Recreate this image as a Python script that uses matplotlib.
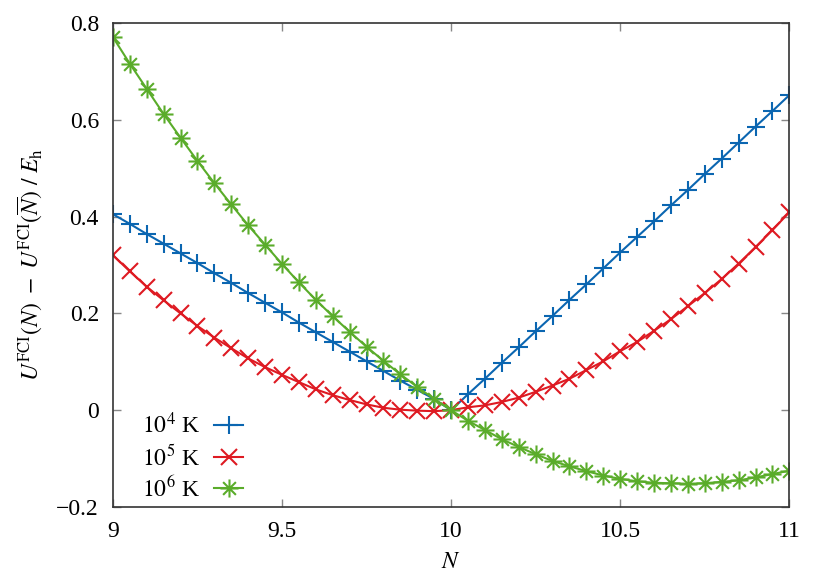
import numpy as np
import matplotlib
matplotlib.use('Agg')
import matplotlib.pyplot as plt
from matplotlib.path import Path

# N grid: 9.00 ... 11.00 in steps of 0.05
n_values = np.round(np.linspace(9.0, 11.0, 41), 2)

u_1e4 = [0.405, 0.385, 0.364, 0.344, 0.324, 0.304, 0.283, 0.263, 0.242, 0.222,
         0.202, 0.181, 0.161, 0.141, 0.121, 0.101, 0.081, 0.061, 0.042, 0.023,
         0.000,
         0.033, 0.065, 0.098, 0.130, 0.163, 0.195, 0.228, 0.260, 0.293, 0.326,
         0.358, 0.390, 0.423, 0.455, 0.488, 0.520, 0.553, 0.586, 0.618, 0.651]

u_1e5 = [0.320, 0.287, 0.255, 0.227, 0.200, 0.174, 0.150, 0.128, 0.107, 0.089,
         0.073, 0.058, 0.043, 0.031, 0.021, 0.012, 0.005, 0.001, -0.001, -0.002,
         0.000,
         0.006, 0.010, 0.017, 0.026, 0.038, 0.051, 0.065, 0.083, 0.101, 0.122,
         0.141, 0.164, 0.188, 0.215, 0.242, 0.271, 0.303, 0.337, 0.372, 0.409]

u_1e6 = [0.771, 0.716, 0.664, 0.612, 0.563, 0.515, 0.469, 0.425, 0.382, 0.342,
         0.302, 0.264, 0.228, 0.194, 0.162, 0.131, 0.102, 0.074, 0.048, 0.023,
         0.000,
         -0.022, -0.041, -0.060, -0.076, -0.091, -0.105, -0.116, -0.126, -0.135, -0.142,
         -0.147, -0.150, -0.151, -0.152, -0.151, -0.148, -0.145, -0.139, -0.132, -0.125]

labels = [r'$10^4$ K', r'$10^5$ K', r'$10^6$ K']
colors = ['#0b66b1', '#de1a22', '#5aac2a']

x_ticks = [9, 9.5, 10, 10.5, 11]
x_tick_labels = ['9', '9.5', '10', '10.5', '11']
y_ticks = [-0.2, 0, 0.2, 0.4, 0.6, 0.8]
y_tick_labels = ['\u22120.2', '0', '0.2', '0.4', '0.6', '0.8']

plt.rcParams['font.family'] = ['Liberation Serif', 'DejaVu Serif']
plt.rcParams['mathtext.fontset'] = 'stix'
plt.rcParams['font.size'] = 17

# gnuplot style asterisk: plus and cross on top of each other
s = 0.7071
asterisk = Path([(-1, 0), (1, 0), (0, -1), (0, 1), (-s, -s), (s, s), (-s, s), (s, -s)],
                [Path.MOVETO, Path.LINETO] * 4)
markers = ['+', 'x', asterisk]
msizes = [13, 12, 13]

fig = plt.figure(figsize=(8.3, 5.81), dpi=100)
ax = fig.add_axes([0.136, 0.1274, 0.815, 0.833])

for ys, lab, col, mk, ms in zip([u_1e4, u_1e5, u_1e6], labels, colors, markers, msizes):
    ax.plot(n_values, ys, color=col, lw=1.5, marker=mk, ms=ms, mew=1.5,
            mfc='none', label=lab)

ax.set_xlim(9, 11)
ax.set_ylim(-0.2, 0.8)
ax.set_xticks(x_ticks)
ax.set_xticklabels(x_tick_labels)
ax.set_yticks(y_ticks)
ax.set_yticklabels(y_tick_labels)
ax.tick_params(direction='in', length=6, width=1, color='#888888',
               top=True, right=True, pad=10)
for sp in ax.spines.values():
    sp.set_color('#333333')
    sp.set_linewidth(1.2)

ax.set_xlabel(r'$N$', labelpad=7)
ax.set_ylabel(r'$U^{\rm FCI}(N)\ -\ U^{\rm FCI}(\overline{N})\ /\ E_{\rm h}$', labelpad=8)

ax.legend(loc='lower left', frameon=False, markerfirst=False, handlelength=1.2,
          handletextpad=0.6, labelspacing=0.25, borderaxespad=0.5,
          bbox_to_anchor=(0.012, -0.033))

fig.savefig('out.png', dpi=100)
